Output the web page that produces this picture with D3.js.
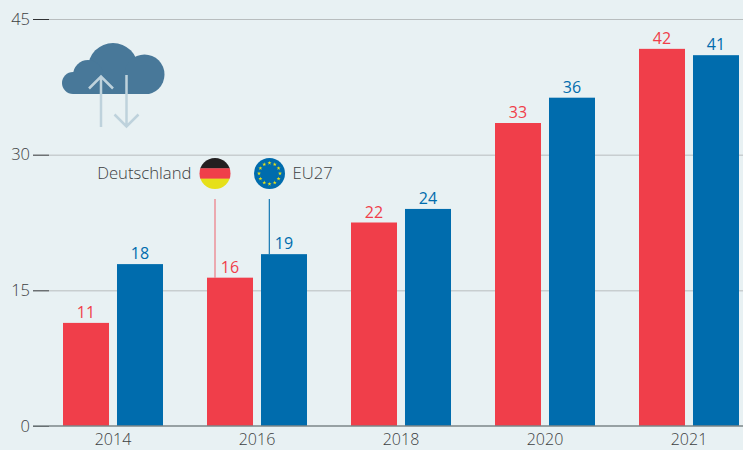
<!DOCTYPE html>
<html>
<head>
<meta charset="utf-8">
<script src="https://cdn.jsdelivr.net/npm/d3@7"></script>
<style>
  html, body { margin: 0; padding: 0; background: #e8f1f3; overflow: hidden; }
  text { font-family: "Open Sans", "Noto Sans", sans-serif; font-weight: 300; }
</style>
</head>
<body>
<div id="chart-container"></div>
<script>
const years = ['2014', '2016', '2018', '2020', '2021'];
const germany = [11.4, 16.4, 22.5, 33.5, 41.7];
const eu27 = [17.9, 19, 24, 36.3, 41];
const germanyLabels = ['11', '16', '22', '33', '42'];
const eu27Labels = ['18', '19', '24', '36', '41'];
const yTicks = [0, 15, 30, 45];

const width = 743;
const height = 450;
const red = '#f03e4a';
const blue = '#006cad';
const textColor = '#3c4042';

const svg = d3.select('#chart-container')
  .append('svg')
  .attr('width', width)
  .attr('height', height)
  .style('display', 'block');

const x = d3.scaleBand().domain(years).range([41, 761]);
const xInner = d3.scaleBand()
  .domain(['de', 'eu'])
  .range([22, 122])
  .paddingInner(0.148);
const y = d3.scaleLinear().domain([0, 45]).range([426, 19]);

// Grid lines sit behind the bars
svg.append('g')
  .selectAll('line')
  .data(yTicks.slice(1))
  .enter()
  .append('line')
  .attr('x1', 49)
  .attr('x2', width)
  .attr('y1', d => y(d) + 0.5)
  .attr('y2', d => y(d) + 0.5)
  .attr('stroke', '#b8bdbe')
  .attr('stroke-width', 1);

// Y axis
const yAxis = svg.append('g')
  .attr('transform', 'translate(49,0)')
  .call(d3.axisLeft(y).tickValues(yTicks).tickSize(16).tickPadding(3));
yAxis.select('.domain').remove();
yAxis.selectAll('line').attr('stroke', '#2f3133').attr('stroke-width', 1);
yAxis.selectAll('text')
  .attr('x', -19)
  .attr('fill', textColor)
  .style('font-size', '16.5px');

// Leader lines from the flags to the 2016 bars
svg.append('line')
  .attr('x1', 215).attr('x2', 215)
  .attr('y1', 199).attr('y2', y(germany[1]))
  .attr('stroke', red)
  .attr('stroke-opacity', 0.8);
svg.append('line')
  .attr('x1', 269.3).attr('x2', 269.3)
  .attr('y1', 199).attr('y2', y(eu27[1]))
  .attr('stroke', blue)
  .attr('stroke-width', 1.1);

// Bars
const groups = svg.append('g')
  .selectAll('g')
  .data(years)
  .enter()
  .append('g')
  .attr('transform', d => `translate(${x(d)},0)`);

groups.append('rect')
  .attr('x', xInner('de'))
  .attr('width', xInner.bandwidth())
  .attr('y', (d, i) => y(germany[i]))
  .attr('height', (d, i) => y(0) - y(germany[i]))
  .attr('fill', red);

groups.append('rect')
  .attr('x', xInner('eu'))
  .attr('width', xInner.bandwidth())
  .attr('y', (d, i) => y(eu27[i]))
  .attr('height', (d, i) => y(0) - y(eu27[i]))
  .attr('fill', blue);

groups.append('text')
  .attr('x', xInner('de') + xInner.bandwidth() / 2)
  .attr('y', (d, i) => y(germany[i]) - 5)
  .attr('text-anchor', 'middle')
  .attr('fill', red)
  .style('font-size', '16px')
  .style('font-weight', 400)
  .text((d, i) => germanyLabels[i]);

groups.append('text')
  .attr('x', xInner('eu') + xInner.bandwidth() / 2)
  .attr('y', (d, i) => y(eu27[i]) - 5)
  .attr('text-anchor', 'middle')
  .attr('fill', blue)
  .style('font-size', '16px')
  .style('font-weight', 400)
  .text((d, i) => eu27Labels[i]);

// X axis
const xAxis = svg.append('g')
  .attr('transform', 'translate(0,426)')
  .call(d3.axisBottom(x).tickSize(0).tickPadding(7.5));
xAxis.select('.domain').remove();
xAxis.selectAll('text')
  .attr('fill', textColor)
  .style('font-size', '16px');
svg.append('line')
  .attr('x1', 33).attr('x2', width)
  .attr('y1', 426).attr('y2', 426)
  .attr('stroke', '#7d8688')
  .attr('stroke-width', 1.5);

// Legend
svg.append('text')
  .attr('x', 191.5).attr('y', 179)
  .attr('text-anchor', 'end')
  .attr('fill', textColor)
  .style('font-size', '16.7px')
  .text('Deutschland');
svg.append('text')
  .attr('x', 292.5).attr('y', 179)
  .attr('fill', textColor)
  .style('font-size', '16.7px')
  .text('EU27');

// German flag
const defs = svg.append('defs');
defs.append('clipPath').attr('id', 'flag-clip')
  .append('circle').attr('cx', 215).attr('cy', 173.5).attr('r', 15.5);
const flag = svg.append('g').attr('clip-path', 'url(#flag-clip)');
['#231f20', '#f03e4a', '#e6e01a'].forEach((c, i) => {
  flag.append('rect')
    .attr('x', 199).attr('y', 158 + i * 10.33)
    .attr('width', 32).attr('height', 10.6)
    .attr('fill', c);
});

// EU flag
svg.append('circle')
  .attr('cx', 269.5).attr('cy', 173.5).attr('r', 15.5)
  .attr('fill', blue);
d3.range(12).forEach(i => {
  const a = i * Math.PI / 6;
  svg.append('path')
    .attr('d', d3.symbol().type(d3.symbolStar).size(5))
    .attr('transform', `translate(${269.5 + 10.5 * Math.sin(a)},${173.5 - 10.5 * Math.cos(a)})`)
    .attr('fill', '#e6e01a');
});

// Cloud icon
defs.append('clipPath').attr('id', 'cloud-clip')
  .append('rect').attr('x', 50).attr('y', 30).attr('width', 130).attr('height', 64);
const cloud = svg.append('g').attr('fill', '#487899').attr('clip-path', 'url(#cloud-clip)');
[[113, 68, 25], [144.5, 74.5, 20], [88, 75, 15], [73, 83, 11]].forEach(c => {
  cloud.append('circle').attr('cx', c[0]).attr('cy', c[1]).attr('r', c[2]);
});
cloud.append('rect')
  .attr('x', 73).attr('y', 72)
  .attr('width', 72).attr('height', 22);

const arrows = svg.append('g')
  .attr('fill', 'none')
  .attr('stroke', '#bed2dc')
  .attr('stroke-width', 2.5);
arrows.append('path').attr('d', 'M101,127V77M89,88.5L101,76.5L113,88.5');
arrows.append('path').attr('d', 'M126.5,75V126.5M114.5,114.5L126.5,126.5L138.5,114.5');
</script>
</body>
</html>
